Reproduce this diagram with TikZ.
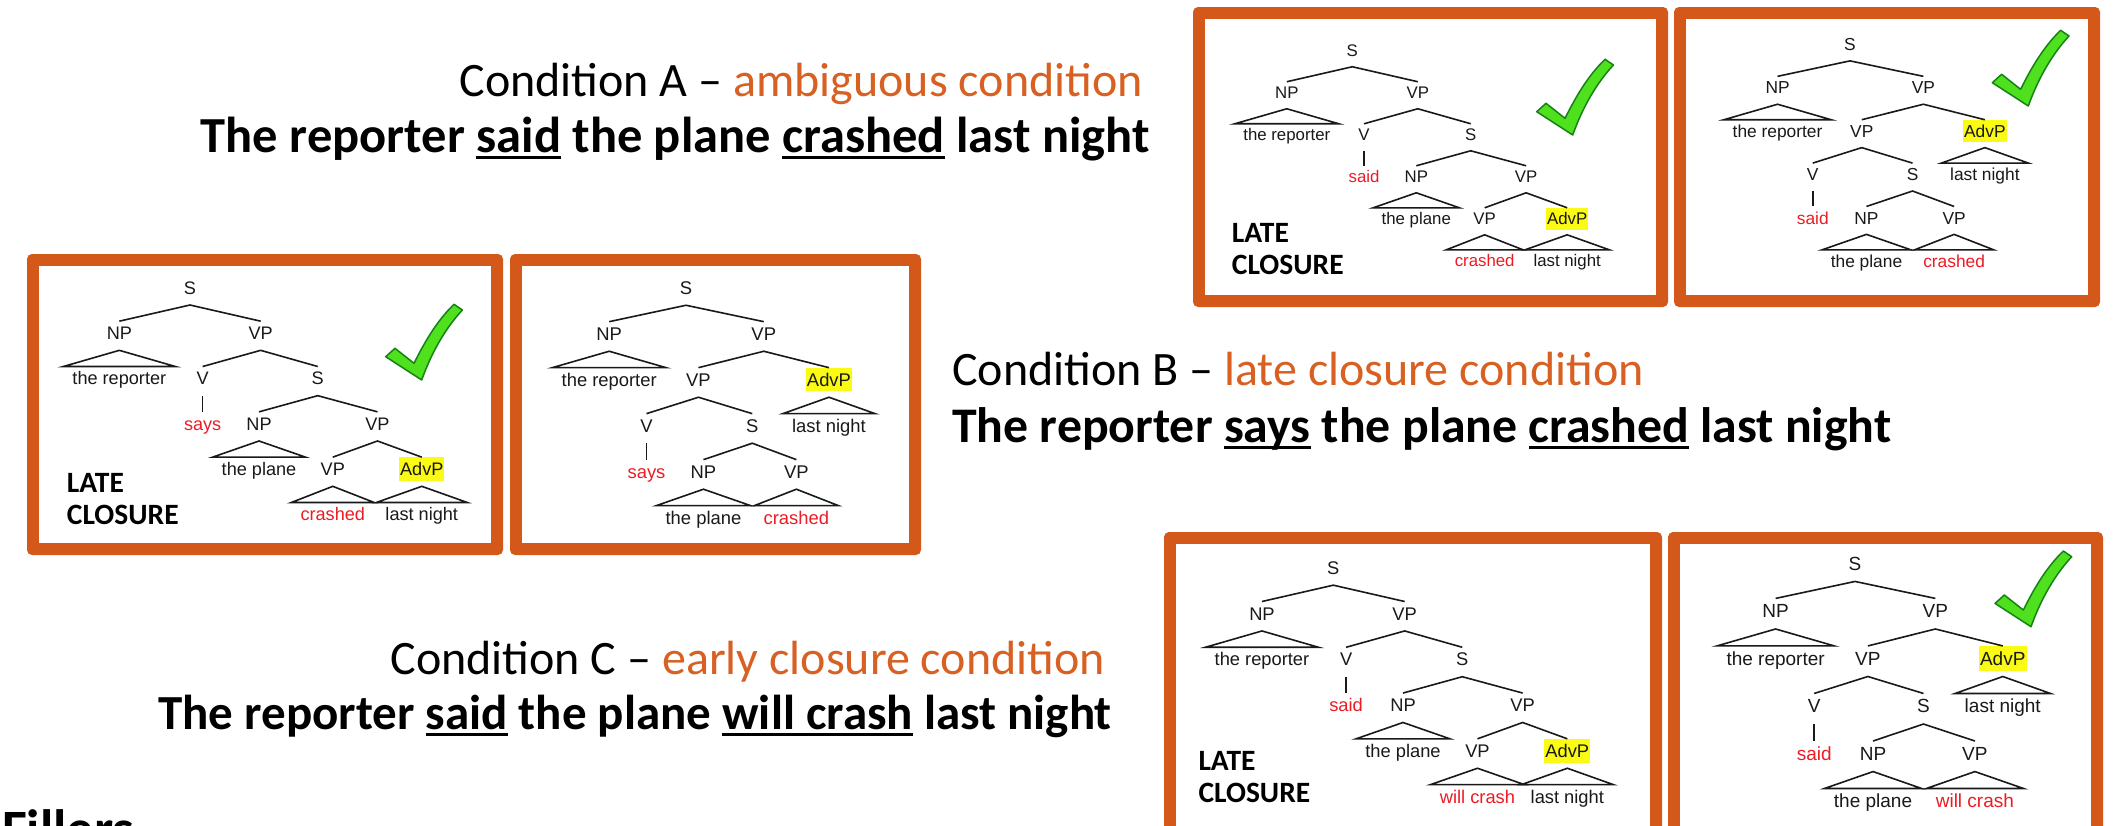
\documentclass[tikz,border=0pt]{standalone}
\usepackage{fontspec}
\setmainfont{Carlito}
\newfontfamily\treefont{Liberation Sans}
\definecolor{frameor}{RGB}{211,88,26}
\definecolor{textor}{RGB}{216,96,34}
\definecolor{verbred}{RGB}{236,28,36}
\definecolor{hlyellow}{RGB}{250,250,20}
\definecolor{chkfill}{RGB}{80,225,30}
\definecolor{chkline}{RGB}{20,130,20}
\definecolor{treeink}{RGB}{25,25,25}
\newcommand\hlbox[1]{{\setlength{\fboxsep}{1pt}\colorbox{hlyellow}{\rule[-4pt]{0pt}{20.6pt}#1}}}
\newcommand\ulw[1]{\sbox0{#1}\rlap{\rule[-7pt]{\wd0}{3pt}}\usebox0}
\tikzset{
  lab/.style={anchor=base, inner xsep=0pt, inner ysep=0pt, outer sep=0pt,
    text height=17.8pt, text depth=10.5pt,
    font=\treefont\fontsize{17.6}{20}\selectfont, text=treeink},
  leaf/.style={lab, inner xsep=8.9pt},
  verb/.style={lab, text=verbred},
  verbleaf/.style={leaf, text=verbred},
  branch/.style={line width=1.6pt, draw=treeink, line join=miter},
  frameout/.style={fill=frameor, rounded corners=5pt},
  framein/.style={fill=white},
  titleR/.style={anchor=base east, inner sep=0pt, font=\fontsize{48}{56}\selectfont},
  titleL/.style={anchor=base west, inner sep=0pt, font=\fontsize{48}{56}\selectfont},
  boldR/.style={anchor=base east, inner sep=0pt, font=\bfseries\fontsize{#1}{56}\selectfont},
  boldL/.style={anchor=base west, inner sep=0pt, font=\bfseries\fontsize{#1}{56}\selectfont},
  closure/.style={anchor=base west, inner sep=0pt, font=\bfseries\fontsize{29.5}{32}\selectfont},
  chkmark/.style={fill=chkfill, draw=chkline, line width=1.5pt, line join=round}
}
% low attachment tree: #1 prefix, #2 x, #3 y, #4 scale, #5 verb, #6 embedded verb
\newcommand\treeL[6]{%
\begin{scope}[shift={(#2,#3)}, scale=#4, transform shape]
  \node[lab] (#1S) at (0,6.3) {S};
  \node[lab] (#1NP) at (-68.6,50.3) {NP};
  \node[lab] (#1VP) at (68.6,50.3) {VP};
  \node[leaf] (#1rep) at (-68.6,94.3) {the reporter};
  \node[lab] (#1V) at (12.3,94.3) {V};
  \node[lab] (#1Sb) at (124,94.3) {S};
  \node[verb] (#1verb) at (12.3,138.3) {#5};
  \node[lab] (#1NPb) at (67,138.3) {NP};
  \node[lab] (#1VPb) at (182,138.3) {VP};
  \node[leaf] (#1pl) at (67,182.3) {the plane};
  \node[lab] (#1VPc) at (138.6,182.3) {VP};
  \node[lab] (#1Adv) at (225,182.3) {\hlbox{AdvP}};
  \node[verbleaf] (#1cr) at (138.6,226.3) {#6};
  \node[leaf] (#1ln) at (225,226.3) {last night};
  \draw[branch] (#1NP.north) -- (#1S.south) -- (#1VP.north);
  \draw[branch] (#1NP.south) -- (#1rep.north west) -- (#1rep.north east) -- cycle;
  \draw[branch] (#1V.north) -- (#1VP.south) -- (#1Sb.north);
  \draw[branch] (#1V.south) -- (#1verb.north);
  \draw[branch] (#1NPb.north) -- (#1Sb.south) -- (#1VPb.north);
  \draw[branch] (#1NPb.south) -- (#1pl.north west) -- (#1pl.north east) -- cycle;
  \draw[branch] (#1VPc.north) -- (#1VPb.south) -- (#1Adv.north);
  \draw[branch] (#1VPc.south) -- (#1cr.north west) -- (#1cr.north east) -- cycle;
  \draw[branch] (#1Adv.south) -- (#1ln.north west) -- (#1ln.north east) -- cycle;
\end{scope}}
% high attachment tree: #7 x of embedded VP
\newcommand\treeH[7]{%
\begin{scope}[shift={(#2,#3)}, scale=#4, transform shape]
  \node[lab] (#1S) at (0,6.3) {S};
  \node[lab] (#1NP) at (-73.5,50.3) {NP};
  \node[lab] (#1VP) at (74.4,50.3) {VP};
  \node[leaf] (#1rep) at (-73.5,94.3) {the reporter};
  \node[lab] (#1VPb) at (11.9,94.3) {VP};
  \node[lab] (#1Adv) at (136.8,94.3) {\hlbox{AdvP}};
  \node[leaf] (#1ln) at (136.8,138.3) {last night};
  \node[lab] (#1V) at (-37.8,138.3) {V};
  \node[lab] (#1Sb) at (63.4,138.3) {S};
  \node[verb] (#1verb) at (-37.8,182.3) {#5};
  \node[lab] (#1NPb) at (16.7,182.3) {NP};
  \node[lab] (#1VPc) at (#7,182.3) {VP};
  \node[leaf] (#1pl) at (16.7,226.3) {the plane};
  \node[verbleaf] (#1cr) at (#7,226.3) {#6};
  \draw[branch] (#1NP.north) -- (#1S.south) -- (#1VP.north);
  \draw[branch] (#1NP.south) -- (#1rep.north west) -- (#1rep.north east) -- cycle;
  \draw[branch] (#1VPb.north) -- (#1VP.south) -- (#1Adv.north);
  \draw[branch] (#1Adv.south) -- (#1ln.north west) -- (#1ln.north east) -- cycle;
  \draw[branch] (#1V.north) -- (#1VPb.south) -- (#1Sb.north);
  \draw[branch] (#1V.south) -- (#1verb.north);
  \draw[branch] (#1NPb.north) -- (#1Sb.south) -- (#1VPc.north);
  \draw[branch] (#1NPb.south) -- (#1pl.north west) -- (#1pl.north east) -- cycle;
  \draw[branch] (#1VPc.south) -- (#1cr.north west) -- (#1cr.north east) -- cycle;
\end{scope}}
\newcommand\chk[2]{%
\begin{scope}[shift={(#1,#2)}]
  \filldraw[chkmark] (0,0) -- (-36,-23.3) -- (-26.7,-31.7) -- (-7.7,-16.7)
    .. controls (2,-36) and (14,-58) .. (32.3,-75.7) -- (40.7,-70)
    .. controls (24,-52) and (10,-28) .. (0,0) -- cycle;
\end{scope}}
\begin{document}
\begin{tikzpicture}[x=1pt, y=-1pt]
\useasboundingbox (0,0) rectangle (2114,825);
\clip (0,0) rectangle (2114,825);
\fill[white] (0,0) rectangle (2114,825);
% frames
\fill[frameout] (1193,7) rectangle (1668,307);
\fill[framein] (1205,19) rectangle (1656,295);
\fill[frameout] (1674,7) rectangle (2100,307);
\fill[framein] (1686,19) rectangle (2088,295);
\fill[frameout] (27,254) rectangle (503,555);
\fill[framein] (39,266) rectangle (491,543);
\fill[frameout] (510,254) rectangle (921,555);
\fill[framein] (522,266) rectangle (909,543);
\fill[frameout] (1164,532) rectangle (1662,860);
\fill[framein] (1176,544) rectangle (1650,860);
\fill[frameout] (1668,532) rectangle (2103,860);
\fill[framein] (1680,544) rectangle (2091,860);
% trees
\treeL{a}{1352.3}{50.7}{0.955}{said}{crashed}
\treeH{b}{1850}{44.3}{0.986}{said}{crashed}{105.6}
\treeL{c}{190}{287.7}{1.03}{says}{crashed}
\treeH{d}{686}{287.7}{1.045}{says}{crashed}{105.6}
\treeL{e}{1333.3}{567.7}{1.04}{said}{will crash}
\treeH{f}{1855}{563.3}{1.08}{said}{will crash}{111}
% check marks
\chk{1572.7}{135}
\chk{2028.3}{106}
\chk{421.7}{380}
\chk{2031}{626.7}
% late closure labels
\node[closure] (lcA) at (1231.7,242) {LATE};
\node[closure] (lcAb) at (1231.7,274.3) {CLOSURE};
\node[closure] (lcB) at (66.7,492) {LATE};
\node[closure] (lcBb) at (66.7,524.3) {CLOSURE};
\node[closure] (lcC) at (1198.3,770.5) {LATE};
\node[closure] (lcCb) at (1198.3,802.5) {CLOSURE};
% headings
\node[titleR] (hA) at (1143,96) {Condition A – \textcolor{textor}{ambiguous condition}};
\node[boldR=50.5] (sA) at (1150,152) {The reporter \ulw{said} the plane \ulw{crashed} last night};
\node[titleL] (hB) at (952,385) {Condition B – \textcolor{textor}{late closure condition}};
\node[boldL=49.8] (sB) at (952,442) {The reporter \ulw{says} the plane \ulw{crashed} last night};
\node[titleR] (hC) at (1105,674) {Condition C – \textcolor{textor}{early closure condition}};
\node[boldR=49] (sC) at (1112,729) {The reporter \ulw{said} the plane \ulw{will crash} last night};
\node[anchor=base west, inner sep=0pt, font=\bfseries\fontsize{54}{60}\selectfont] (fillers) at (2,847) {Fillers};
\end{tikzpicture}
\end{document}
